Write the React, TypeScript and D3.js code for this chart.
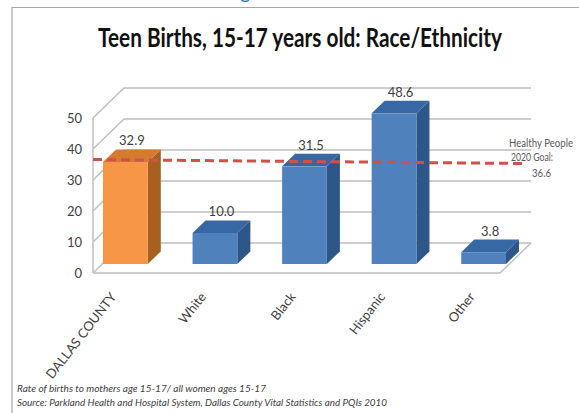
import React from "react";
import * as d3 from "d3";

const categories = ["DALLAS COUNTY", "White", "Black", "Hispanic", "Other"];
const values = [32.9, 10.0, 31.5, 48.6, 3.8];
const barColors = ["orange", "blue", "blue", "blue", "blue"];
const yTicks = [0, 10, 20, 30, 40, 50];
const goalValue = 36.6;
const goalLabel = ["Healthy People", "2020 Goal:", "36.6"];
const title = "Teen Births, 15-17 years old: Race/Ethnicity";
const notes = [
  "Rate of births to mothers age 15-17/ all women ages 15-17",
  "Source: Parkland Health and Hospital System, Dallas County Vital Statistics and PQIs 2010",
];

const W = 579;
const H = 413;
const FONT = "Lato, 'Open Sans', sans-serif";

const palette: Record<string, { front: string; top: string; side: string }> = {
  orange: { front: "#F79646", top: "#D47B30", side: "#A8601F" },
  blue: { front: "#4F81BD", top: "#3868A3", side: "#2D5689" },
};

export default function App() {
  const floorL = 93;
  const floorR = 500;
  const DX = 31;
  const DY = -30;
  const f0 = 0.3;
  const f1 = 0.72;

  const y = d3.scaleLinear().domain([0, 50]).range([273, 118]);
  const x = d3
    .scaleBand<string>()
    .domain(categories)
    .range([93.7, 496.7])
    .paddingInner(0.5)
    .paddingOuter(0);

  const bw = x.bandwidth();
  const bdx = (f1 - f0) * DX;
  const bdy = (f1 - f0) * DY;

  const grid = yTicks.map((t) => {
    const p = d3.path();
    p.moveTo(floorL, y(t));
    p.lineTo(floorL + DX, y(t) + DY);
    p.lineTo(floorR + DX, y(t) + DY);
    return p.toString();
  });

  const floor = d3.path();
  floor.moveTo(floorL, y(0));
  floor.lineTo(floorR, y(0));
  floor.lineTo(floorR + DX, y(0) + DY);

  const goalY = y(goalValue);

  return (
    <svg
      width={W}
      height={H}
      viewBox={`0 0 ${W} ${H}`}
      style={{ position: "absolute", left: 0, top: 0, display: "block", background: "#fff" }}
    >
      <rect x={0} y={0} width={W} height={H} fill="#fff" />
      <text x={240} y={-1} fontFamily={FONT} fontSize={20} fill="#2E75D6">
        g
      </text>
      <path d={`M12,${H + 2} L12,7.5 L${W + 2},7.5`} fill="none" stroke="#A6A6A6" strokeWidth={1.2} />

      <text
        x={300}
        y={47}
        textAnchor="middle"
        fontFamily={FONT}
        fontWeight="bold"
        fontSize={26}
        fill="#111"
        textLength={404}
        lengthAdjust="spacingAndGlyphs"
      >
        {title}
      </text>

      {grid.map((d, i) => (
        <path key={i} d={d} fill="none" stroke="#BFBFBF" strokeWidth={1.5} />
      ))}
      <line x1={floorL} x2={floorL} y1={y(0)} y2={y(50)} stroke="#BFBFBF" strokeWidth={1.5} />
      <path d={floor.toString()} fill="none" stroke="#BFBFBF" strokeWidth={1.5} />

      {yTicks.map((t) => (
        <text
          key={t}
          x={82}
          y={y(t) + 4.5}
          textAnchor="end"
          fontFamily={FONT}
          fontSize={13}
          fill="#404040"
        >
          {t}
        </text>
      ))}

      {categories.map((c, i) => {
        const col = palette[barColors[i]];
        const xl = (x(c) as number) + f0 * DX;
        const xr = xl + bw;
        const yb = y(0) + f0 * DY;
        const yt = y(values[i]) + f0 * DY;
        const top = `M${xl},${yt} L${xr},${yt} L${xr + bdx},${yt + bdy} L${xl + bdx},${yt + bdy} Z`;
        const side = `M${xr},${yt} L${xr + bdx},${yt + bdy} L${xr + bdx},${yb + bdy} L${xr},${yb} Z`;
        return (
          <g key={c}>
            <path d={side} fill={col.side} />
            <path d={top} fill={col.top} />
            <rect x={xl} y={yt} width={bw} height={yb - yt} fill={col.front} />
            <text
              x={xl + bw / 2 + bdx / 2}
              y={yt + bdy - 4}
              textAnchor="middle"
              fontFamily={FONT}
              fontSize={13}
              fill="#404040"
            >
              {values[i].toFixed(1)}
            </text>
          </g>
        );
      })}

      <line
        x1={floorL}
        y1={goalY}
        x2={527}
        y2={goalY + 4}
        stroke="#D0504A"
        strokeWidth={3}
        strokeDasharray="9 5"
      />
      {goalLabel.map((s, i) => (
        <text
          key={s}
          x={[509, 511, 532][i]}
          y={[147, 161, 177][i]}
          fontFamily={FONT}
          fontSize={10.5}
          fill="#595959"
          textLength={[64, 42, 19][i]}
          lengthAdjust="spacingAndGlyphs"
        >
          {s}
        </text>
      ))}

      {categories.map((c) => {
        const cx = (x(c) as number) + bw / 2 + 1;
        const cy = 297;
        return (
          <text
            key={c}
            transform={`translate(${cx},${cy}) rotate(-52)`}
            textAnchor="end"
            fontFamily={FONT}
            fontSize={13}
            fill="#404040"
          >
            {c}
          </text>
        );
      })}

      {notes.map((n, i) => (
        <text
          key={i}
          x={17}
          y={392 + i * 14}
          fontFamily={FONT}
          fontStyle="italic"
          fontSize={10}
          fill="#404040"
          textLength={[249, 370][i]}
          lengthAdjust="spacingAndGlyphs"
        >
          {n}
        </text>
      ))}
    </svg>
  );
}
